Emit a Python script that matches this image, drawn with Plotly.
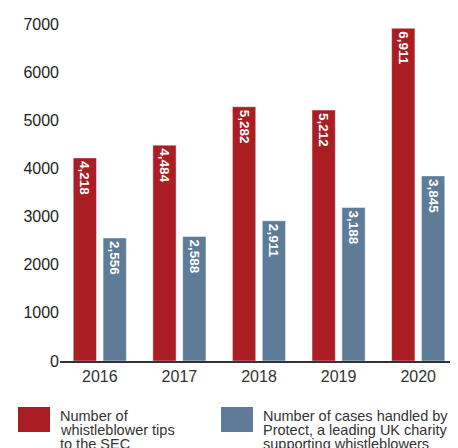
import plotly.graph_objects as go

years = ["2016", "2017", "2018", "2019", "2020"]
sec_tips = [4218, 4484, 5282, 5212, 6911]
protect_cases = [2556, 2588, 2911, 3188, 3845]
y_ticks = [0, 1000, 2000, 3000, 4000, 5000, 6000, 7000]
legend_red = ["Number of", "whistleblower tips", "to the SEC"]
legend_blue = ["Number of cases handled by", "Protect, a leading UK charity", "supporting whistleblowers"]

RED = "#A91D23"
BLUE = "#5E7C97"
FONT = "Liberation Sans, Arial, sans-serif"

OFF = 8  # page body margin
W, H = 458 - OFF, 448 - OFF
L, R, T, B = 60 - OFF, 0, 24 - OFF, 87
PW, PH = W - L - R, H - T - B

def px(x):  # screen pixel -> paper
    return (x - OFF - L) / PW

def py(y):
    return (H - B - (y - OFF)) / PH

fig = go.Figure()
for vals, col in [(sec_tips, RED), (protect_cases, BLUE)]:
    fig.add_trace(go.Bar(
        x=years, y=vals,
        marker=dict(color=col, line=dict(color="rgba(255,255,255,0.45)", width=1)),
        texttemplate="%{y:,.0f}", textposition="inside", insidetextanchor="end",
        textangle=90, cliponaxis=False,
        textfont=dict(family=FONT, size=13.5, color="white", weight="bold"),
        hoverinfo="skip",
    ))

shapes = []
annotations = []
for (x0, items, col) in [(18, legend_red, RED), (221, legend_blue, BLUE)]:
    shapes.append(dict(type="rect", xref="paper", yref="paper",
                       x0=px(x0), x1=px(x0 + 32), y0=py(407), y1=py(432),
                       fillcolor=col, line=dict(width=0)))
    for i, line in enumerate(items):
        annotations.append(dict(xref="paper", yref="paper", x=px(x0 + 40), y=py(416 + 14 * i),
                                xanchor="left", yanchor="middle", showarrow=False,
                                text=line, font=dict(family=FONT, size=14.5, color="#333333")))

fig.update_layout(
    width=W, height=H,
    margin=dict(l=L, r=R, t=T, b=B),
    paper_bgcolor="white", plot_bgcolor="white",
    barmode="group", bargap=0.25, bargroupgap=0.22,
    showlegend=False,
    font=dict(family=FONT, color="#333333"),
    shapes=shapes, annotations=annotations,
    uniformtext=dict(mode="show", minsize=13),
)
fig.update_xaxes(showline=True, linecolor="#333333", linewidth=1.5, ticks="",
                 tickfont=dict(size=16, color="#333333"), showgrid=False)
fig.update_yaxes(range=[0, 7000], tickvals=y_ticks, showgrid=False, zeroline=False,
                 showline=False, ticks="", tickfont=dict(size=16, color="#222222"))

fig.write_html("out.html")
